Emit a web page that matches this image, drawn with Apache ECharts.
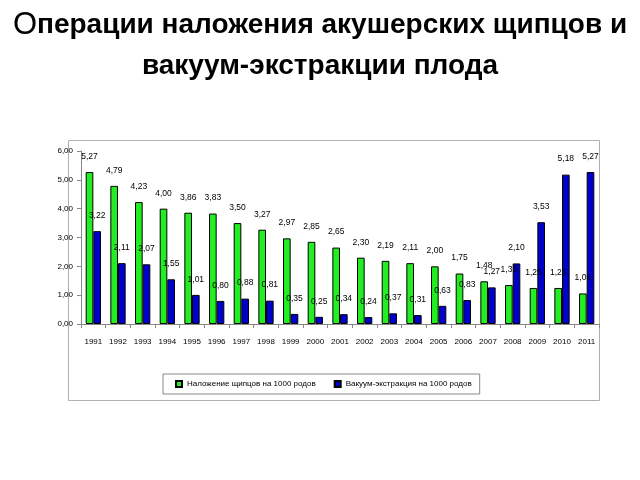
<!DOCTYPE html>
<html><head><meta charset="utf-8">
<script src="https://cdn.jsdelivr.net/npm/echarts@6/dist/echarts.min.js"></script>
<style>html,body{margin:0;padding:0;background:#fff}#c{width:640px;height:480px}</style>
</head><body><div id="c"></div>
<script>
var years = ['1991','1992','1993','1994','1995','1996','1997','1998','1999','2000','2001','2002','2003','2004','2005','2006','2007','2008','2009','2010','2011'];
var forceps = [5.27,4.79,4.23,4.00,3.86,3.83,3.50,3.27,2.97,2.85,2.65,2.30,2.19,2.11,2.00,1.75,1.48,1.35,1.25,1.25,1.06];
var vacuum = [3.22,2.11,2.07,1.55,1.01,0.80,0.88,0.81,0.35,0.25,0.34,0.24,0.37,0.31,0.63,0.83,1.27,2.10,3.53,5.18,5.27];
var seriesNames = ['Наложение щипцов на 1000 родов','Вакуум-экстракция на 1000 родов'];
var yTicks = [0,1,2,3,4,5,6];

function fmt(v){ return Number(v).toFixed(2).replace('.', ','); }
var chart = echarts.init(document.getElementById('c'));
var lbl = {show:true, position:'top', distance:11, fontSize:8.5, color:'#000', fontFamily:'Liberation Sans, Arial', formatter:function(p){return fmt(p.value);}};
chart.setOption({
  animation:false,
  backgroundColor:'#fff',
  title:{
    left:'center', top:0,
    text:'{a|О}{b|перации наложения акушерских щипцов и}\n{b|вакуум-экстракции плода}',
    textStyle:{
      rich:{
        a:{fontSize:31, fontWeight:'normal', fontFamily:'Liberation Sans, Arial', color:'#000', lineHeight:41},
        b:{fontSize:28, fontWeight:'bold', fontFamily:'Liberation Sans, Arial', color:'#000', lineHeight:41}
      }
    }
  },
  graphic:[{type:'rect', shape:{x:68.5, y:140.5, width:531, height:260}, style:{fill:'none', stroke:'#b0b0b0', lineWidth:1}, z:-1}],
  grid:{left:81, right:41, top:151, bottom:156, containLabel:false},
  legend:{
    data:seriesNames, left:163, top:374,
    orient:'horizontal', itemWidth:6, itemHeight:6, itemGap:18,
    borderColor:'#888', borderWidth:1, padding:[6,8,6,12],
    textStyle:{fontSize:8, color:'#000', fontFamily:'Liberation Sans, Arial'},
    icon:'rect'
  },
  xAxis:{
    type:'category', data:years,
    axisLine:{lineStyle:{color:'#888'}},
    axisTick:{show:true, length:4, lineStyle:{color:'#888'}},
    axisLabel:{color:'#000', fontSize:8, margin:14, interval:0, fontFamily:'Liberation Sans, Arial'}
  },
  yAxis:{
    type:'value', min:0, max:6, interval:1,
    axisLine:{show:true, lineStyle:{color:'#888'}},
    axisTick:{show:true, length:4, lineStyle:{color:'#888'}},
    splitLine:{show:false},
    axisLabel:{color:'#000', fontSize:8, margin:8, fontFamily:'Liberation Sans, Arial', formatter:function(v){return fmt(v);}}
  },
  series:[
    {name:seriesNames[0], type:'bar', data:forceps, barGap:'0%', barCategoryGap:'38%',
     itemStyle:{color:'#22ee22', borderColor:'#000', borderWidth:1}, label:lbl},
    {name:seriesNames[1], type:'bar', data:vacuum, barGap:'0%', barCategoryGap:'38%',
     itemStyle:{color:'#0000cc', borderColor:'#000', borderWidth:1}, label:lbl}
  ]
});
</script></body></html>
